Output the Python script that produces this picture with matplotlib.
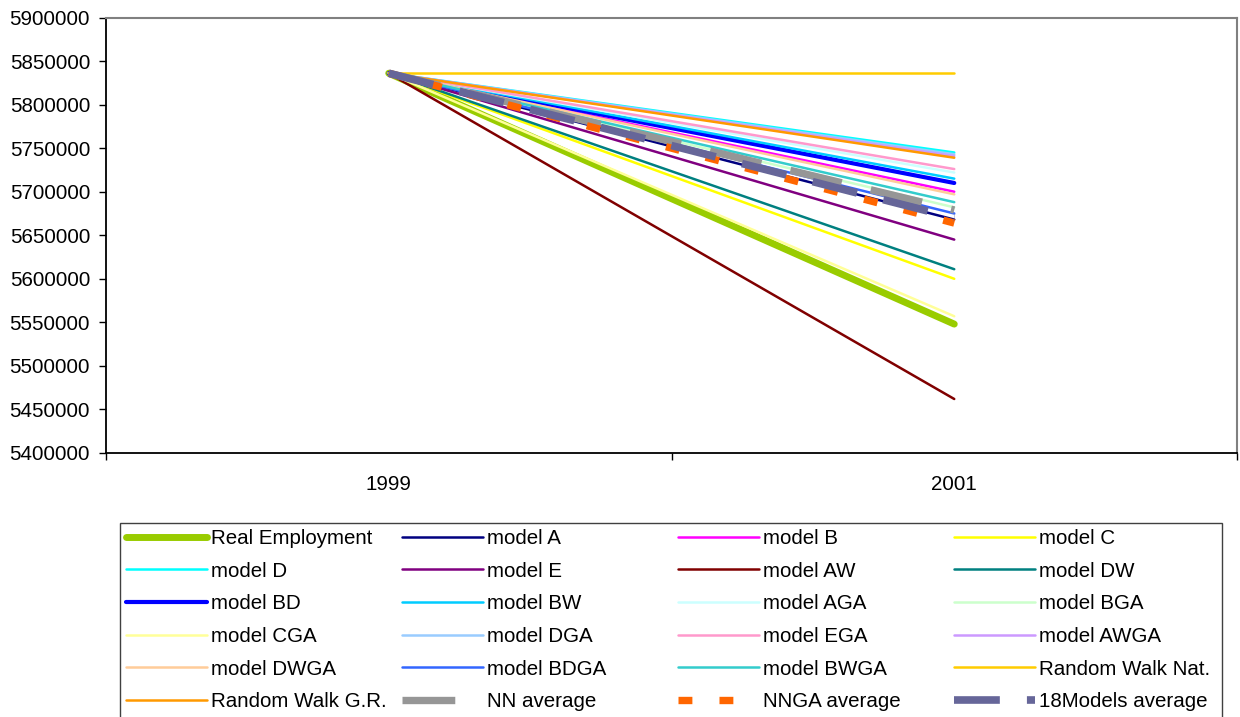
import matplotlib
matplotlib.use("Agg")
import matplotlib.pyplot as plt
from matplotlib.patches import Rectangle
from matplotlib.ticker import FixedLocator, NullFormatter, FixedFormatter

plt.rcParams['font.family'] = ['Liberation Sans', 'DejaVu Sans']
plt.rcParams['lines.scale_dashes'] = False

years = ['1999', '2001']

labels = ['Real Employment', 'model A', 'model B', 'model C',
          'model D', 'model E', 'model AW', 'model DW',
          'model BD', 'model BW', 'model AGA', 'model BGA',
          'model CGA', 'model DGA', 'model EGA', 'model AWGA',
          'model DWGA', 'model BDGA', 'model BWGA', 'Random Walk Nat.',
          'Random Walk G.R.', 'NN average', 'NNGA average', '18Models average']

real_employment = [5836000, 5548000]
model_a = [5836000, 5668000]
model_b = [5836000, 5700000]
model_c = [5836000, 5600000]
model_d = [5836000, 5745000]
model_e = [5836000, 5645000]
model_aw = [5836000, 5462000]
model_dw = [5836000, 5611000]
model_bd = [5836000, 5710000]
model_bw = [5836000, 5715000]
model_aga = [5836000, 5722000]
model_bga = [5836000, 5682000]
model_cga = [5836000, 5557000]
model_dga = [5836000, 5743000]
model_ega = [5836000, 5726000]
model_awga = [5836000, 5741000]
model_dwga = [5836000, 5697000]
model_bdga = [5836000, 5675000]
model_bwga = [5836000, 5688000]
rw_nat = [5836000, 5836000]
rw_gr = [5836000, 5739000]
nn_avg = [5836000, 5679000]
nnga_avg = [5836000, 5664000]
models18_avg = [5836000, 5670000]

series = [real_employment, model_a, model_b, model_c, model_d, model_e, model_aw,
          model_dw, model_bd, model_bw, model_aga, model_bga, model_cga, model_dga,
          model_ega, model_awga, model_dwga, model_bdga, model_bwga, rw_nat, rw_gr,
          nn_avg, nnga_avg, models18_avg]

colors = ['#99CC00', '#000080', '#FF00FF', '#FFFF00',
          '#00FFFF', '#800080', '#800000', '#008080',
          '#0000FF', '#00CCFF', '#CCFFFF', '#CCFFCC',
          '#FFFF99', '#99CCFF', '#FF99CC', '#CC99FF',
          '#FFCC99', '#3366FF', '#33CCCC', '#FFCC00',
          '#FF9900', '#969696', '#FF6600', '#666699']

widths = [5.0, 1.8, 1.8, 1.8, 1.8, 1.8, 1.8, 1.8, 3.0, 1.8, 1.8, 1.8,
          1.8, 1.8, 1.8, 1.8, 1.8, 1.8, 1.8, 1.8, 1.8, 5.3, 5.3, 5.5]
dashes = {21: (38, 21.5), 22: (10, 19.5), 23: (33, 19.5)}

fig = plt.figure(figsize=(12.4, 7.17), dpi=100)
ax = fig.add_axes([106/1240, 1-453/717, (1237-106)/1240, (453-17.5)/717])

x = list(range(len(years)))
lines = []
for i, (lab, vals, c, w) in enumerate(zip(labels, series, colors, widths)):
    if i in dashes:
        ln, = ax.plot(x, vals, color=c, lw=w, label=lab, zorder=2+i,
                      dash_capstyle='butt')
        ln.set_dashes(dashes[i])
    else:
        ln, = ax.plot(x, vals, color=c, lw=w, label=lab, zorder=2+i,
                      solid_capstyle='round')
    lines.append(ln)

ax.set_xlim(-0.5, 1.5)
ax.set_ylim(5400000, 5900000)
ax.set_yticks(range(5400000, 5900001, 50000))
ax.set_yticklabels([str(v) for v in range(5400000, 5900001, 50000)])
ax.tick_params(axis='y', direction='out', length=5, width=1, pad=6.5,
               labelsize=14.8, colors='black')

ax.xaxis.set_major_locator(FixedLocator([-0.5, 0.5, 1.5]))
ax.xaxis.set_major_formatter(NullFormatter())
ax.xaxis.set_minor_locator(FixedLocator(x))
ax.xaxis.set_minor_formatter(FixedFormatter(years))
ax.tick_params(axis='x', which='major', direction='out', length=5, width=1)
ax.tick_params(axis='x', which='minor', length=0, pad=15.5, labelsize=14.8)

for s in ['left', 'bottom']:
    ax.spines[s].set_color('black')
    ax.spines[s].set_linewidth(1.3)
for s in ['top', 'right']:
    ax.spines[s].set_color('#808080')
    ax.spines[s].set_linewidth(1.5)

# legend: 4 columns, 6 rows, row-major order
W, H = 1240.0, 717.0
col_x = [126, 402, 678, 954]
top_y = 529.0
fs = 14.8
for c in range(4):
    idx = [r*4 + c for r in range(6)]
    leg = fig.legend([lines[i] for i in idx], [labels[i] for i in idx],
                     loc='upper left', bbox_to_anchor=(col_x[c]/W, 1-top_y/H),
                     bbox_transform=fig.transFigure, frameon=False,
                     borderpad=0, borderaxespad=0, handlelength=81/20.55,
                     handletextpad=0.2, labelspacing=0.665, fontsize=fs)

fig.add_artist(Rectangle((120/W, 1-722/H), (1222-120)/W, (722-523)/H,
                         transform=fig.transFigure, fill=False,
                         edgecolor='#404040', lw=1.0, clip_on=False))

fig.savefig('out.png', dpi=100)
